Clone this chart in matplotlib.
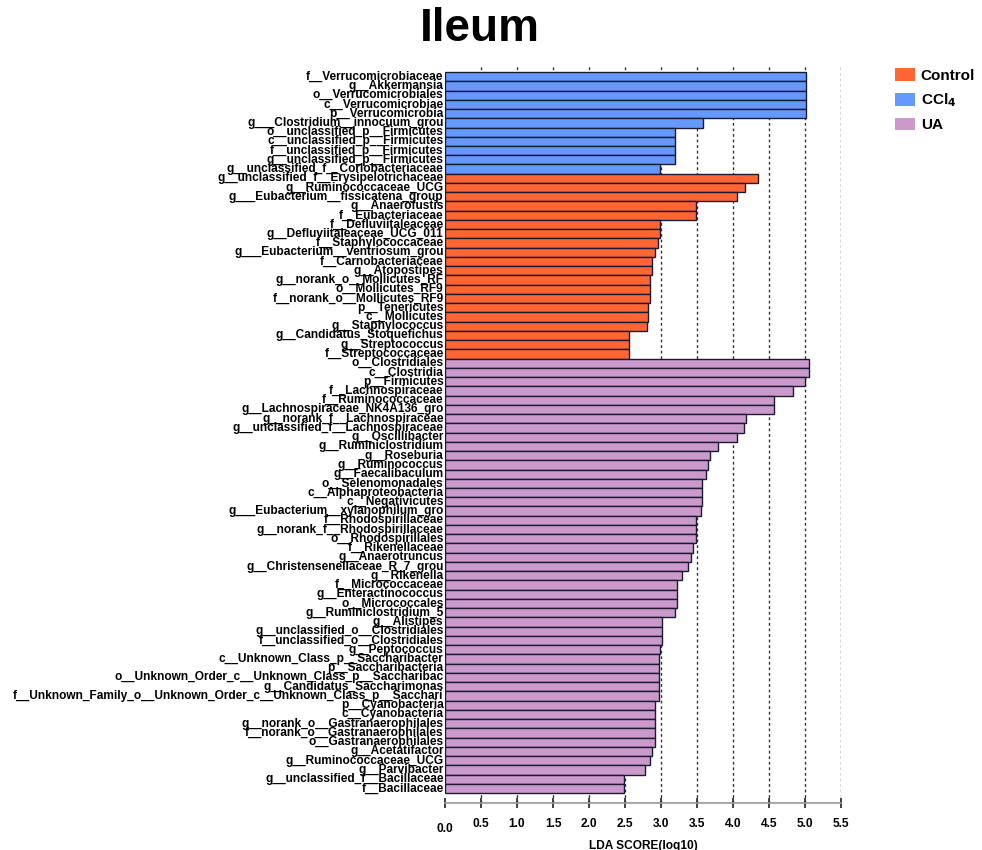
import matplotlib
matplotlib.use("Agg")
import matplotlib.pyplot as plt
from matplotlib.patches import Patch

plt.rcParams["font.family"] = ["Liberation Sans", "DejaVu Sans"]
plt.rcParams["font.weight"] = "bold"

# LEfSe features, top to bottom, with their enriched group
ccl4_labels = [
    "f__Verrucomicrobiaceae", "g__Akkermansia", "o__Verrucomicrobiales",
    "c__Verrucomicrobiae", "p__Verrucomicrobia", "g___Clostridium__innocuum_grou",
    "o__unclassified_p__Firmicutes", "c__unclassified_p__Firmicutes",
    "f__unclassified_p__Firmicutes", "g__unclassified_p__Firmicutes",
    "g__unclassified_f__Coriobacteriaceae",
]
ccl4_scores = [5.02, 5.02, 5.02, 5.02, 5.02, 3.58, 3.19, 3.19, 3.19, 3.19, 2.98]

control_labels = [
    "g__unclassified_f__Erysipelotrichaceae", "g__Ruminococcaceae_UCG",
    "g___Eubacterium__fissicatena_group", "g__Anaerofustis", "f__Eubacteriaceae",
    "f__Defluviitaleaceae", "g__Defluviitaleaceae_UCG_011", "f__Staphylococcaceae",
    "g___Eubacterium__ventriosum_grou", "f__Carnobacteriaceae", "g__Atopostipes",
    "g__norank_o__Mollicutes_RF", "o__Mollicutes_RF9", "f__norank_o__Mollicutes_RF9",
    "p__Tenericutes", "c__Mollicutes", "g__Staphylococcus",
    "g__Candidatus_Stoquefichus", "g__Streptococcus", "f__Streptococcaceae",
]
control_scores = [4.35, 4.17, 4.06, 3.48, 3.48, 2.99, 2.99, 2.96, 2.92, 2.88,
                  2.88, 2.85, 2.85, 2.85, 2.82, 2.82, 2.80, 2.55, 2.55, 2.55]

ua_labels = [
    "o__Clostridiales", "c__Clostridia", "p__Firmicutes", "f__Lachnospiraceae",
    "f__Ruminococcaceae", "g__Lachnospiraceae_NK4A136_gro",
    "g__norank_f__Lachnospiraceae", "g__unclassified_f__Lachnospiraceae",
    "g__Oscillibacter", "g__Ruminiclostridium", "g__Roseburia", "g__Ruminococcus",
    "g__Faecalibaculum", "o__Selenomonadales", "c__Alphaproteobacteria",
    "c__Negativicutes", "g___Eubacterium__xylanophilum_gro", "f__Rhodospirillaceae",
    "g__norank_f__Rhodospirillaceae", "o__Rhodospirillales", "f__Rikenellaceae",
    "g__Anaerotruncus", "g__Christensenellaceae_R_7_grou", "g__Rikenella",
    "f__Micrococcaceae", "g__Enteractinococcus", "o__Micrococcales",
    "g__Ruminiclostridium_5", "g__Alistipes", "g__unclassified_o__Clostridiales",
    "f__unclassified_o__Clostridiales", "g__Peptococcus",
    "c__Unknown_Class_p__Saccharibacter", "p__Saccharibacteria",
    "o__Unknown_Order_c__Unknown_Class_p__Saccharibac",
    "g__Candidatus_Saccharimonas",
    "f__Unknown_Family_o__Unknown_Order_c__Unknown_Class_p__Sacchari",
    "p__Cyanobacteria", "c__Cyanobacteria", "g__norank_o__Gastranaerophilales",
    "f__norank_o__Gastranaerophilales", "o__Gastranaerophilales",
    "g__Acetatifactor", "g__Ruminococcaceae_UCG", "g__Parvibacter",
    "g__unclassified_f__Bacillaceae", "f__Bacillaceae",
]
ua_scores = [5.05, 5.05, 5.00, 4.84, 4.57, 4.57, 4.18, 4.15, 4.05, 3.79,
             3.68, 3.65, 3.62, 3.57, 3.57, 3.57, 3.55, 3.49, 3.49, 3.49,
             3.45, 3.42, 3.38, 3.29, 3.22, 3.22, 3.22, 3.19, 3.01, 3.01,
             3.01, 2.99, 2.97, 2.97, 2.97, 2.97, 2.97, 2.92, 2.92, 2.92,
             2.92, 2.92, 2.88, 2.85, 2.78, 2.48, 2.48]

xticks = [0.0, 0.5, 1.0, 1.5, 2.0, 2.5, 3.0, 3.5, 4.0, 4.5, 5.0, 5.5]

colors = {"Control": "#FF6633", "CCl$_4$": "#6699FF", "UA": "#CC99CC"}

labels = ccl4_labels + control_labels + ua_labels
scores = ccl4_scores + control_scores + ua_scores
bar_colors = ([colors["CCl$_4$"]] * len(ccl4_labels)
              + [colors["Control"]] * len(control_labels)
              + [colors["UA"]] * len(ua_labels))
ypos = list(range(len(labels)))

fig = plt.figure(figsize=(9.82, 8.5), dpi=100)
ax = fig.add_axes([0.4532, 0.0553, 0.4032, 0.8682])

for x in xticks[1:]:
    ax.axvline(x, color="#333333", linestyle=(0, (2, 2)), linewidth=1.0, zorder=0)

ax.barh(ypos, scores, height=1.0, color=bar_colors, edgecolor="#1a1a33",
        linewidth=1.0, zorder=2)

for y, lab in zip(ypos, labels):
    ax.text(-0.02, y, lab, ha="right", va="center", fontsize=8.6,
            fontweight="bold", zorder=3)

ax.set_xlim(0, 5.5)
ax.set_ylim(len(labels) - 0.5 + 1.08, -0.5 - 0.76)
ax.set_yticks([])
for side in ["left", "right", "top"]:
    ax.spines[side].set_visible(False)
ax.spines["bottom"].set_color("#999999")
ax.spines["bottom"].set_linewidth(1.2)
ax.set_xticks(xticks)
ax.set_xticklabels([f"{t:.1f}" for t in xticks], fontsize=8.6, fontweight="bold")
ax.tick_params(axis="x", direction="inout", length=7, width=1.2, color="#222222", pad=7)
ax.get_xticklabels()[0].set_y(-0.008)
ax.set_xlabel("LDA SCORE(log10)", fontsize=8.6, fontweight="bold", labelpad=3)

fig.suptitle("Ileum", x=0.489, y=0.992, fontsize=33, fontweight="bold")

handles = [Patch(facecolor=c, edgecolor="none") for c in colors.values()]
fig.legend(handles, list(colors.keys()), loc="upper left",
           bbox_to_anchor=(0.901, 0.932), frameon=False,
           prop={"size": 11, "weight": "bold"}, handlelength=1.3,
           handleheight=0.9, handletextpad=0.35, labelspacing=0.55,
           borderpad=0.2)

fig.savefig("out.png", dpi=100)
